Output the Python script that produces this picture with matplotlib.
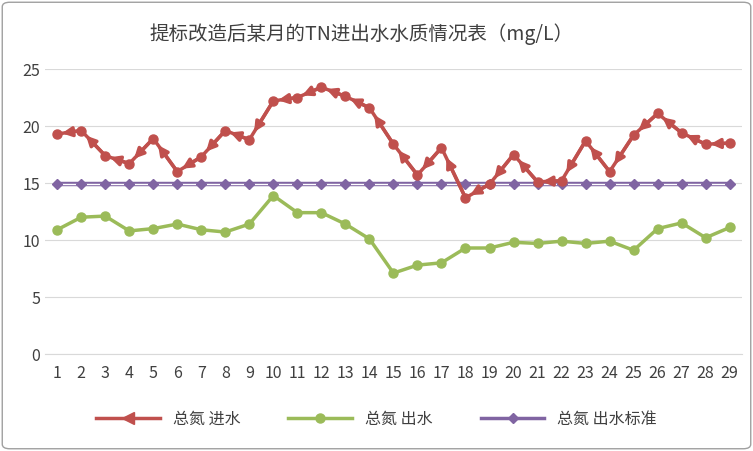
import matplotlib.pyplot as plt
from matplotlib.patches import FancyBboxPatch
from matplotlib.lines import Line2D

plt.rcParams['font.family'] = ['Noto Sans CJK SC', 'DejaVu Sans']

days = list(range(1, 30))
inflow = [19.3, 19.6, 17.4, 16.7, 18.9, 16.0, 17.3, 19.6, 18.8, 22.2, 22.5, 23.4, 22.6, 21.6, 18.4,
          15.7, 18.1, 13.7, 14.9, 17.5, 15.1, 15.2, 18.7, 16.0, 19.2, 21.1, 19.4, 18.4, 18.5]
outflow = [10.9, 12.0, 12.1, 10.8, 11.0, 11.4, 10.9, 10.7, 11.4, 13.9, 12.4, 12.4, 11.4, 10.1, 7.1,
           7.8, 8.0, 9.3, 9.3, 9.8, 9.7, 9.9, 9.7, 9.9, 9.1, 11.0, 11.5, 10.2, 11.1]
standard = [14.9] * 29
yticks = [0, 5, 10, 15, 20, 25]

red = '#C0504D'; green = '#9BBB59'; purple = '#8064A2'

fig = plt.figure(figsize=(7.53, 4.51), dpi=100)
border = FancyBboxPatch((0.003, 0.005), 0.994, 0.99, boxstyle='round,pad=0,rounding_size=0.01',
                        transform=fig.transFigure, fc='white', ec='#A0A0A0', lw=1, zorder=-10)
fig.patches.append(border)
ax = fig.add_axes([0.06, 0.215, 0.925, 0.632])
ax.patch.set_alpha(0)
ax.set_xlim(0.5, 29.5)
ax.set_ylim(0, 25)
ax.set_yticks(yticks)
ax.set_xticks(days)
ax.grid(axis='y', color='#D9D9D9', lw=0.8)
ax.set_axisbelow(True)
for s in ['top', 'right', 'left']:
    ax.spines[s].set_visible(False)
ax.spines['bottom'].set_color('#D9D9D9')
ax.tick_params(length=0, labelsize=11.5, colors='#404040')
ax.tick_params(axis='x', pad=8)

ax.plot(days, standard, color=purple, lw=3.2, zorder=2)
ax.plot(days, standard, color='white', lw=1.0, zorder=2)
ax.plot(days, standard, ls='none', marker='D', ms=5.5, color=purple, zorder=3)
ax.plot(days, outflow, color=green, lw=2.5, marker='o', ms=6.5, zorder=3)
ax.plot(days, inflow, color=red, lw=2.5, marker='o', ms=6.5, zorder=4)
for i in range(1, 29):
    ax.annotate('', xy=(days[i-1] + 0.2, inflow[i-1] + (inflow[i]-inflow[i-1]) * 0.2),
                xytext=(days[i], inflow[i]),
                arrowprops=dict(arrowstyle='-|>', color=red, lw=2.5, mutation_scale=14,
                                shrinkA=0, shrinkB=0), zorder=4)

fig.text(0.48, 0.925, '提标改造后某月的TN进出水水质情况表（mg/L）', ha='center', va='center',
         fontsize=14, color='#404040')

handles = [
    Line2D([], [], color=red, lw=2.5, marker='<', ms=8, markevery=[0]),
    Line2D([], [], color=green, lw=2.5, marker='o', ms=6.5),
    Line2D([], [], color=purple, lw=2.5, marker='D', ms=5.5),
]
fig.legend(handles, ['总氮 进水', '总氮 出水', '总氮 出水标准'], loc='center', ncol=3,
           bbox_to_anchor=(0.5, 0.07), frameon=False, fontsize=11.5, handlelength=4,
           columnspacing=3, labelcolor='#404040')
fig.savefig('out.png', dpi=100)
